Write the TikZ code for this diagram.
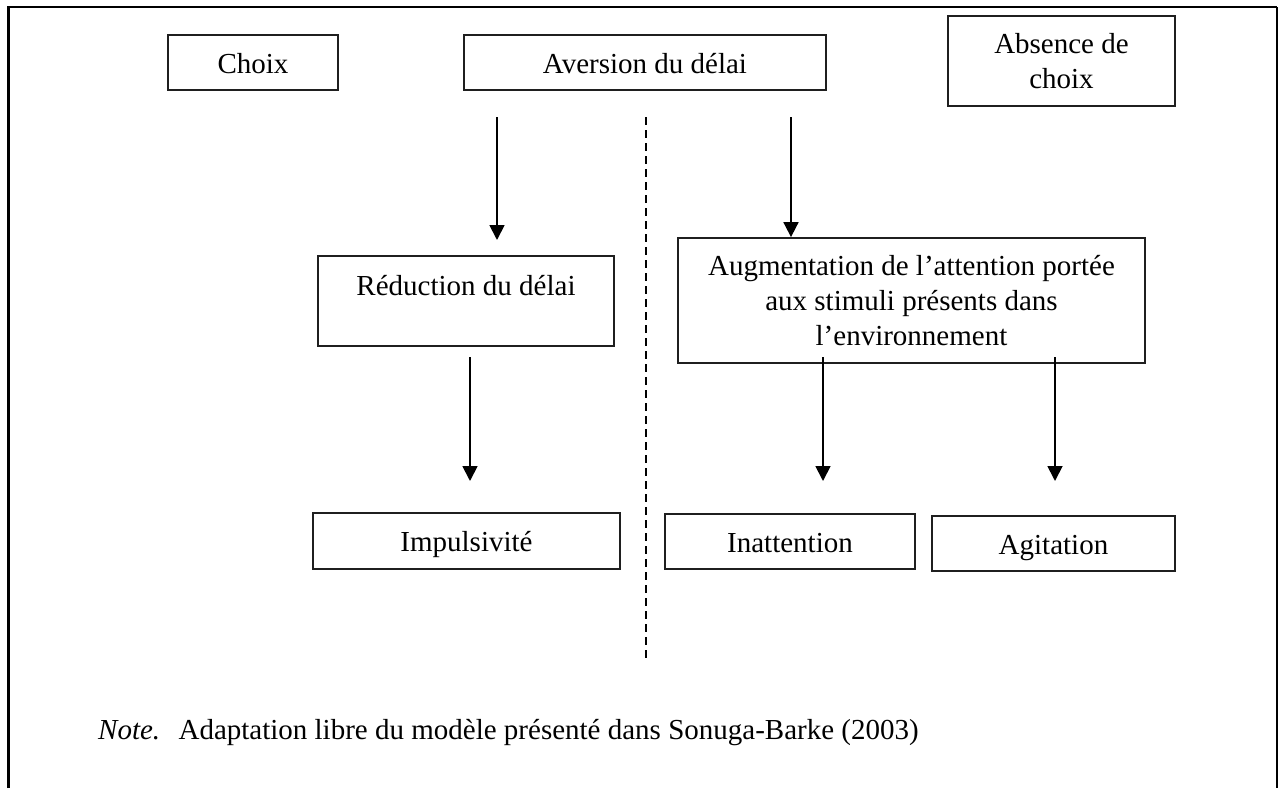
\documentclass[tikz,border=0pt]{standalone}
\usepackage{fontspec}
\setmainfont{Liberation Serif}
\usetikzlibrary{arrows.meta}
\begin{document}
\begin{tikzpicture}[x=1pt,y=-1pt,
  box/.style={draw=black!88, line width=1.8pt, inner sep=0pt,
    font=\fontsize{29}{35}\selectfont},
  multi/.style={box, align=center},
  one/.style={box, text height=38pt, text depth=17pt},
  arr/.style={draw=black, line width=1.8pt, -{Triangle[width=15pt,length=15pt]}},
  sepline/.style={draw=black, line width=1.8pt, dash pattern=on 8pt off 5pt},
  frameline/.style={draw=black}]
\useasboundingbox (0,0) rectangle (1278,788);
% outer frame (open at the bottom)
\draw[frameline, line width=3pt] (8.5,788) -- (8.5,7);
\draw[frameline, line width=2.5pt] (7,7) -- (1277,7);
\draw[frameline, line width=1.5pt] (1277,7) -- (1277,788);
% boxes
\node[one, minimum width=170pt, minimum height=55pt] (choix) at (253,62.5) {Choix};
\node[one, minimum width=362pt, minimum height=55pt] (aversion) at (645,62.5) {Aversion du délai};
\node[multi, minimum width=227pt, minimum height=90pt] (absence) at (1061.5,61) {Absence de\\choix};
\node[box, minimum width=296pt, minimum height=90pt, text height=39pt, text depth=51pt] (reduc) at (466,301) {Réduction du délai};
\node[multi, minimum width=467pt, minimum height=125pt] (augm) at (911.5,300.5) {Augmentation de l’attention portée\\aux stimuli présents dans\\l’environnement};
\node[one, minimum width=307pt, minimum height=56pt] (impul) at (466.5,541) {Impulsivité};
\node[one, minimum width=250pt, minimum height=55pt] (inatt) at (790,541.5) {Inattention};
\node[one, minimum width=243pt, minimum height=55pt] (agit) at (1053.5,543.5) {Agitation};
% arrow end points
\coordinate (s1) at (497,117);
\coordinate (e1) at (497,240);
\coordinate (s2) at (791,117);
\coordinate (s3) at (470,357);
\coordinate (e3) at (470,481);
\coordinate (s4) at (823,357);
\coordinate (e4) at (823,481);
\coordinate (s5) at (1055,357);
\coordinate (e5) at (1055,481);
\coordinate (d1) at (646,117);
\coordinate (d2) at (646,660);
% connectors
\draw[arr] (s1) -- (e1);
\draw[arr] (s2) -- (s2 |- augm.north);
\draw[arr] (s3) -- (e3);
\draw[arr] (s4) -- (e4);
\draw[arr] (s5) -- (e5);
\draw[sepline] (d1) -- (d2);
% note
\node[anchor=base west, inner sep=0pt, font=\fontsize{29}{35}\selectfont] (note) at (98,739)
  {\textit{Note.}\hspace{0.3em} Adaptation libre du modèle présenté dans Sonuga-Barke (2003)};
\end{tikzpicture}
\end{document}
